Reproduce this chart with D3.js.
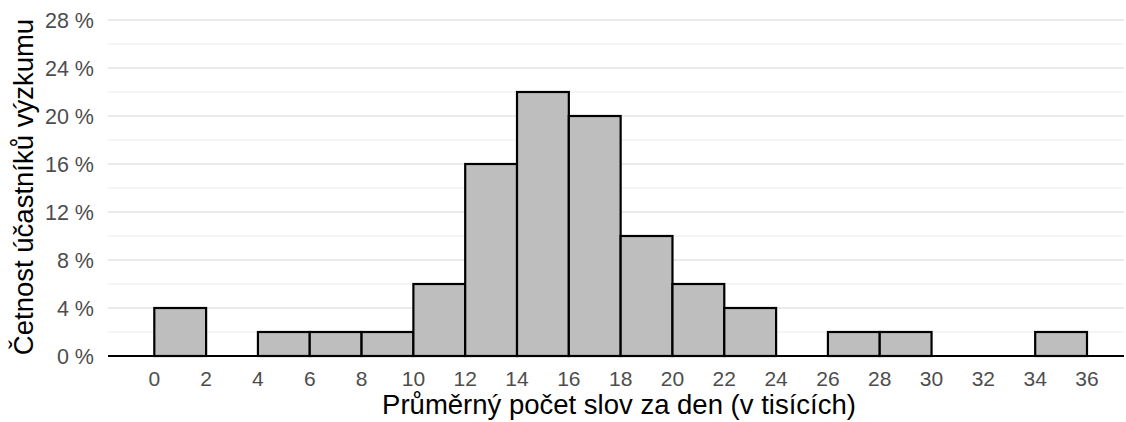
<!DOCTYPE html>
<html><head><meta charset="utf-8">
<script src="https://cdn.jsdelivr.net/npm/d3@7"></script>
<style>
html,body{margin:0;padding:0;background:#fff;}
svg{display:block;font-family:"Liberation Sans",Arial,sans-serif;}
</style></head>
<body>
<svg id="chart" width="1126" height="422"></svg>
<script>
const binStarts = [0,2,4,6,8,10,12,14,16,18,20,22,24,26,28,30,32,34];
const binWidth = 2;
const percents = [4,0,2,2,2,6,16,22,20,10,6,4,0,2,2,0,0,2];
const xTicks = [0,2,4,6,8,10,12,14,16,18,20,22,24,26,28,30,32,34,36];
const yTicks = [0,4,8,12,16,20,24,28];
const yMinor = [2,6,10,14,18,22,26];
const xTitle = "Průměrný počet slov za den (v tisících)";
const yTitle = "Četnost účastníků výzkumu";

const svg = d3.select("#chart");
const plotLeft = 108, plotRight = 1124;
const x = d3.scaleLinear().domain([0,36]).range([154.3,1087]);
const y = d3.scaleLinear().domain([0,28]).range([356,20]);

// minor gridlines
svg.append("g").selectAll("line").data(yMinor).join("line")
  .attr("x1",plotLeft).attr("x2",plotRight)
  .attr("y1",d=>y(d)).attr("y2",d=>y(d))
  .attr("stroke","#ebebeb").attr("stroke-width",1);
// major gridlines
svg.append("g").selectAll("line").data(yTicks.filter(d=>d>0)).join("line")
  .attr("x1",plotLeft).attr("x2",plotRight)
  .attr("y1",d=>y(d)).attr("y2",d=>y(d))
  .attr("stroke","#ebebeb").attr("stroke-width",2);

// bars
const data = binStarts.map((s,i)=>({s, v:percents[i]})).filter(d=>d.v>0);
svg.append("g").selectAll("rect").data(data).join("rect")
  .attr("x",d=>x(d.s)).attr("width",d=>x(d.s+binWidth)-x(d.s))
  .attr("y",d=>y(d.v)).attr("height",d=>y(0)-y(d.v))
  .attr("fill","#bebebe").attr("stroke","#000").attr("stroke-width",2.2);

// x axis line
svg.append("line").attr("x1",plotLeft).attr("x2",plotRight)
  .attr("y1",y(0)).attr("y2",y(0)).attr("stroke","#000").attr("stroke-width",2.2);

// y tick labels
svg.append("g").selectAll("text").data(yTicks).join("text")
  .attr("x",94).attr("y",d=>y(d)).attr("dy","0.36em")
  .attr("text-anchor","end").attr("font-size",21.5).attr("fill","#4d4d4d")
  .text(d=>d+" %");

// x tick labels
svg.append("g").selectAll("text").data(xTicks).join("text")
  .attr("x",d=>x(d)).attr("y",386)
  .attr("text-anchor","middle").attr("font-size",21).attr("fill","#4d4d4d")
  .text(d=>d);

// titles
svg.append("text").attr("x",619).attr("y",414)
  .attr("text-anchor","middle").attr("font-size",27.5).attr("fill","#000").text(xTitle);
svg.append("text").attr("transform","translate(33,187) rotate(-90)")
  .attr("text-anchor","middle").attr("font-size",27.5).attr("fill","#000").text(yTitle);
</script>
</body></html>
